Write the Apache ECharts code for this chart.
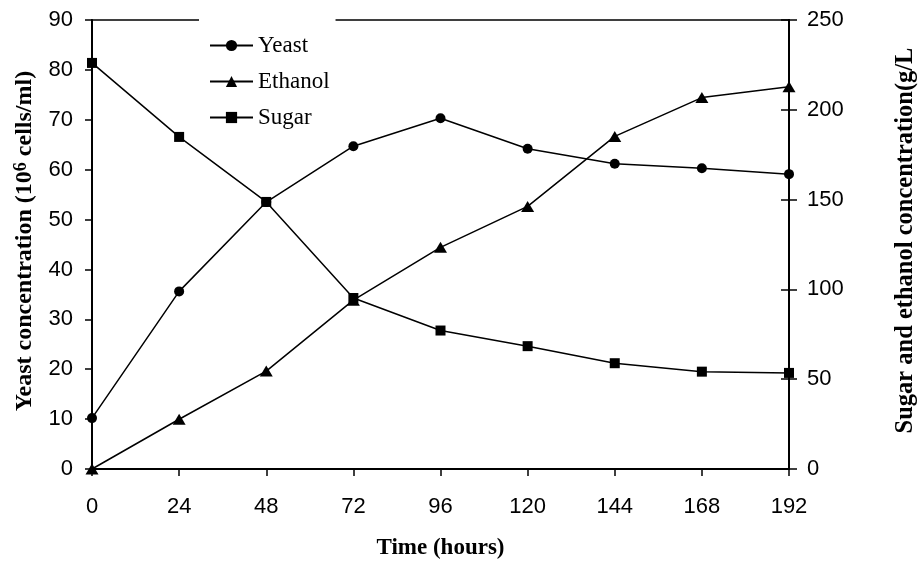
<!DOCTYPE html>
<html>
<head>
<meta charset="utf-8">
<script src="https://cdn.jsdelivr.net/npm/echarts@6/dist/echarts.min.js"></script>
<style>
html,body{margin:0;padding:0;background:#fff;}
#chart{width:918px;height:563px;}
</style>
</head>
<body>
<div id="chart"></div>
<script>
const hours = [0, 24, 48, 72, 96, 120, 144, 168, 192];
const yeast = [10.2, 35.6, 53.5, 64.7, 70.3, 64.2, 61.2, 60.3, 59.1];
const ethanol = [0, 27.7, 54.5, 94, 123.4, 146.2, 185.2, 206.8, 212.8];
const sugar = [226.1, 184.9, 148.7, 95.2, 77.1, 68.4, 58.9, 54.2, 53.5];
const seriesNames = ['Yeast', 'Ethanol', 'Sugar'];
const xTitle = 'Time (hours)';
const leftTitleParts = ['Yeast concentration (10', '6', ' cells/ml)'];
const rightTitle = 'Sugar and ethanol concentration(g/L';

const chart = echarts.init(document.getElementById('chart'));
const sans = 'Liberation Sans, Arial, sans-serif';
const serif = 'Liberation Serif, Times New Roman, serif';
const axisLineStyle = {color: '#000', width: 2};
const pairs = arr => hours.map((h, i) => [h, arr[i]]);

const option = {
  animation: false,
  backgroundColor: '#fff',
  grid: {
    left: 92, right: 129, top: 20, bottom: 94,
    outerBoundsMode: 'none', containLabel: false,
    show: true, borderColor: '#000', borderWidth: 1.5, backgroundColor: 'transparent'
  },
  legend: {
    data: seriesNames,
    orient: 'vertical',
    left: 199,
    top: 12,
    padding: [22, 6, 8, 10],
    backgroundColor: '#fff',
    itemWidth: 43,
    itemHeight: 14,
    itemGap: 13,
    textStyle: {fontFamily: serif, fontSize: 23, color: '#000'}
  },
  xAxis: {
    type: 'value', min: 0, max: 192, interval: 24,
    name: xTitle, nameLocation: 'middle', nameGap: 68,
    nameTextStyle: {fontFamily: serif, fontWeight: 'bold', fontSize: 23, color: '#000'},
    axisLine: {lineStyle: axisLineStyle},
    axisTick: {show: true, length: 7, lineStyle: {color: '#000', width: 1.5}},
    axisLabel: {fontFamily: sans, fontSize: 22, color: '#000', margin: 27},
    splitLine: {show: false}
  },
  yAxis: [
    {
      type: 'value', position: 'left', min: 0, max: 90, interval: 10,
      axisLine: {show: true, lineStyle: axisLineStyle},
      axisTick: {show: true, length: 7, lineStyle: {color: '#000', width: 1.5}},
      axisLabel: {fontFamily: sans, fontSize: 22, color: '#000', margin: 19},
      splitLine: {show: false}
    },
    {
      type: 'value', position: 'right', min: 0, max: 250, interval: 50,
      axisLine: {show: true, lineStyle: axisLineStyle},
      axisTick: {show: true, length: 8, lineStyle: {color: '#000', width: 1.5}},
      axisLabel: {fontFamily: sans, fontSize: 22, color: '#000', margin: 18},
      splitLine: {show: false}
    },
    {
      type: 'value', position: 'right', min: 0, max: 250, interval: 50,
      axisLine: {show: true, lineStyle: axisLineStyle},
      axisTick: {show: true, inside: true, length: 8, lineStyle: {color: '#000', width: 1.5}},
      axisLabel: {show: false},
      splitLine: {show: false}
    }
  ],
  series: [
    {
      name: seriesNames[0], type: 'line', yAxisIndex: 0, data: pairs(yeast),
      symbol: 'circle', symbolSize: 10,
      lineStyle: {color: '#000', width: 1.5}, itemStyle: {color: '#000'}
    },
    {
      name: seriesNames[1], type: 'line', yAxisIndex: 1, data: pairs(ethanol),
      symbol: 'triangle', symbolSize: [13, 11],
      lineStyle: {color: '#000', width: 1.5}, itemStyle: {color: '#000'}
    },
    {
      name: seriesNames[2], type: 'line', yAxisIndex: 1, data: pairs(sugar),
      symbol: 'rect', symbolSize: 10,
      lineStyle: {color: '#000', width: 1.5}, itemStyle: {color: '#000'}
    }
  ],
  graphic: [
    {
      type: 'text', x: 25, y: 241, rotation: Math.PI / 2,
      style: {
        text: '{b|' + leftTitleParts[0] + '}{s|' + leftTitleParts[1] + '}{b|' + leftTitleParts[2] + '}',
        align: 'center', verticalAlign: 'middle',
        rich: {
          b: {fontFamily: serif, fontWeight: 'bold', fontSize: 24, fill: '#000', lineHeight: 26},
          s: {fontFamily: serif, fontWeight: 'bold', fontSize: 18, fill: '#000', verticalAlign: 'top', lineHeight: 26}
        }
      }
    },
    {
      type: 'text', x: 906, y: 240.5, rotation: Math.PI / 2,
      style: {
        text: rightTitle, align: 'center', verticalAlign: 'middle',
        font: 'bold 24.5px ' + serif, fill: '#000'
      }
    }
  ]
};
chart.setOption(option);
</script>
</body>
</html>
